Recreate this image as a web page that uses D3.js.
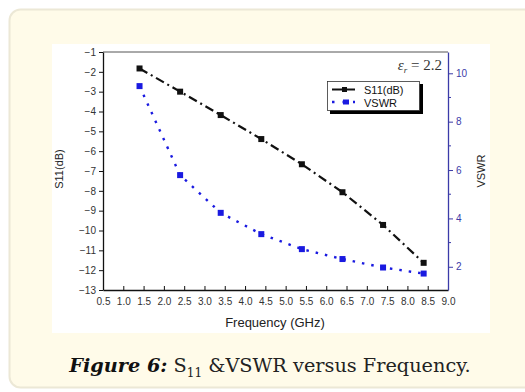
<!DOCTYPE html>
<html>
<head>
<meta charset="utf-8">
<script src="https://cdn.jsdelivr.net/npm/d3@7"></script>
<style>
  html, body { margin: 0; padding: 0; background: #fff; }
  svg { display: block; }
</style>
</head>
<body>
<svg id="chart" width="525" height="392"></svg>
<script>
const freq = [1.4, 2.4, 3.4, 4.4, 5.4, 6.4, 7.4, 8.4];
const s11 = [-1.83, -3.0, -4.18, -5.39, -6.66, -8.07, -9.72, -11.63];
const vswr = [9.47, 5.79, 4.23, 3.35, 2.73, 2.32, 1.97, 1.72];
const xTicks = d3.range(0.5, 9.01, 0.5);
const yTicks = d3.range(-13, -0.99, 1);
const vTicks = [2, 4, 6, 8, 10];
const vMinor = [3, 5, 7, 9];

const svg = d3.select('#chart');
const font = "'Liberation Sans', Arial, sans-serif";

// cream card behind the figure
svg.append('rect')
  .attr('x', 9.5).attr('y', 9.5)
  .attr('width', 540).attr('height', 378)
  .attr('rx', 11)
  .attr('fill', '#fffbe9')
  .attr('stroke', '#ece8d6')
  .attr('stroke-width', 2);

// white image area
svg.append('rect')
  .attr('x', 52).attr('y', 44)
  .attr('width', 438).attr('height', 289)
  .attr('fill', '#fff');

const m = { left: 103, right: 448, top: 52, bottom: 290 };

const x = d3.scaleLinear().domain([0.5, 9.0]).range([m.left, m.right]);
const y = d3.scaleLinear().domain([-13, -1]).range([m.bottom, m.top]);
const y2 = d3.scaleLinear().domain([1.04, 10.88]).range([m.bottom, m.top]);

const g = svg.append('g');

// top frame
g.append('line')
  .attr('x1', m.left).attr('x2', m.right)
  .attr('y1', m.top).attr('y2', m.top)
  .attr('stroke', '#555').attr('stroke-width', 1);

// x axis, ticks inward
const xAxis = g.append('g')
  .attr('transform', `translate(0,${m.bottom})`)
  .call(d3.axisBottom(x).tickValues(xTicks).tickFormat(d3.format('.1f'))
    .tickSizeInner(-4).tickSizeOuter(0).tickPadding(8));
xAxis.select('.domain').attr('stroke', '#111').attr('stroke-width', 1.3);
xAxis.selectAll('.tick line').attr('stroke', '#111');
xAxis.selectAll('text').attr('font-family', font).attr('font-size', 10).attr('fill', '#333');

// left axis
const yAxis = g.append('g')
  .attr('transform', `translate(${m.left},0)`)
  .call(d3.axisLeft(y).tickValues(yTicks).tickSizeInner(4).tickSizeOuter(0).tickPadding(3));
yAxis.select('.domain').attr('stroke', '#111').attr('stroke-width', 1.3);
yAxis.selectAll('.tick line').attr('stroke', '#111');
yAxis.selectAll('text').attr('font-family', font).attr('font-size', 10).attr('fill', '#333');

// right axis (VSWR)
const blue = '#3b3ba8';
const vAxis = g.append('g')
  .attr('transform', `translate(${m.right},0)`)
  .call(d3.axisRight(y2).tickValues(vTicks).tickSizeInner(5).tickSizeOuter(0).tickPadding(3));
vAxis.select('.domain').attr('stroke', blue).attr('stroke-width', 1.3);
vAxis.selectAll('.tick line').attr('stroke', blue);
vAxis.selectAll('text').attr('font-family', font).attr('font-size', 10).attr('fill', blue);
vAxis.selectAll('.minor').data(vMinor).enter().append('line')
  .attr('x1', 0).attr('x2', 3)
  .attr('y1', d => y2(d)).attr('y2', d => y2(d))
  .attr('stroke', blue);

// axis titles
svg.append('text')
  .attr('transform', `translate(63,${(m.top + m.bottom) / 2 - 2}) rotate(-90)`)
  .attr('text-anchor', 'middle')
  .attr('font-family', font).attr('font-size', 11).attr('fill', '#222')
  .text('S11(dB)');
svg.append('text')
  .attr('transform', `translate(485,${(m.top + m.bottom) / 2}) rotate(-90)`)
  .attr('text-anchor', 'middle')
  .attr('font-family', font).attr('font-size', 11).attr('fill', '#222')
  .text('VSWR');
svg.append('text')
  .attr('x', 275).attr('y', 327)
  .attr('text-anchor', 'middle')
  .attr('font-family', font).attr('font-size', 13).attr('fill', '#222')
  .text('Frequency (GHz)');

// series
const lineS = d3.line().x((d, i) => x(freq[i])).y(d => y(d));
const lineV = d3.line().x((d, i) => x(freq[i])).y(d => y2(d));

g.append('path').datum(s11)
  .attr('d', lineS).attr('fill', 'none')
  .attr('stroke', '#111').attr('stroke-width', 2.2)
  .attr('stroke-dasharray', '9,4,2,4');
g.selectAll('.ptS').data(s11).enter().append('rect')
  .attr('x', (d, i) => x(freq[i]) - 3).attr('y', d => y(d) - 3)
  .attr('width', 6).attr('height', 6).attr('fill', '#111');

g.append('path').datum(vswr)
  .attr('d', lineV).attr('fill', 'none')
  .attr('stroke', '#1a1ae0').attr('stroke-width', 2.4)
  .attr('stroke-dasharray', '2.5,7');
g.selectAll('.ptV').data(vswr).enter().append('rect')
  .attr('x', (d, i) => x(freq[i]) - 3).attr('y', d => y2(d) - 3)
  .attr('width', 6).attr('height', 6).attr('fill', '#1a1ae0');

// legend
const lg = svg.append('g').attr('transform', 'translate(327,81)');
lg.append('rect').attr('x', 3).attr('y', 3).attr('width', 93).attr('height', 30).attr('fill', '#000');
lg.append('rect').attr('x', 0.5).attr('y', 0.5).attr('width', 92).attr('height', 29)
  .attr('fill', '#fff').attr('stroke', '#333').attr('stroke-width', 0.8);
lg.append('line').attr('x1', 5).attr('x2', 28).attr('y1', 8.5).attr('y2', 8.5)
  .attr('stroke', '#111').attr('stroke-width', 2);
lg.append('rect').attr('x', 15).attr('y', 6).attr('width', 5).attr('height', 5).attr('fill', '#111');
lg.append('text').attr('x', 37).attr('y', 12.5)
  .attr('font-family', font).attr('font-size', 11).attr('fill', '#111').text('S11(dB)');
lg.append('line').attr('x1', 5).attr('x2', 28).attr('y1', 21).attr('y2', 21)
  .attr('stroke', '#1a1ae0').attr('stroke-width', 2.4).attr('stroke-dasharray', '2.5,8');
lg.append('rect').attr('x', 16).attr('y', 18.5).attr('width', 6).attr('height', 5).attr('fill', '#1a1ae0');
lg.append('text').attr('x', 37).attr('y', 25.5)
  .attr('font-family', font).attr('font-size', 11).attr('fill', '#111').text('VSWR');

// epsilon label
const eps = svg.append('text')
  .attr('x', 442).attr('y', 70).attr('text-anchor', 'end')
  .attr('font-family', "'Liberation Serif', 'Times New Roman', serif")
  .attr('font-size', 15).attr('fill', '#333');
eps.append('tspan').attr('font-style', 'italic').text('ε');
eps.append('tspan').attr('font-style', 'italic').attr('font-size', 9).attr('dy', 3).text('r');
eps.append('tspan').attr('dy', -3).text(' = 2.2');

// caption
const cap = svg.append('text')
  .attr('x', 270).attr('y', 372).attr('text-anchor', 'middle')
  .attr('font-family', "'DejaVu Serif', serif")
  .attr('font-size', 19.3).attr('fill', '#222');
cap.append('tspan').attr('font-weight', 'bold').attr('font-style', 'italic').attr('fill', '#111').text('Figure 6:');
cap.append('tspan').text(' S');
cap.append('tspan').attr('font-size', 12).attr('dy', 5).text('11');
cap.append('tspan').attr('dy', -5).text(' &VSWR versus Frequency.');
</script>
</body>
</html>
